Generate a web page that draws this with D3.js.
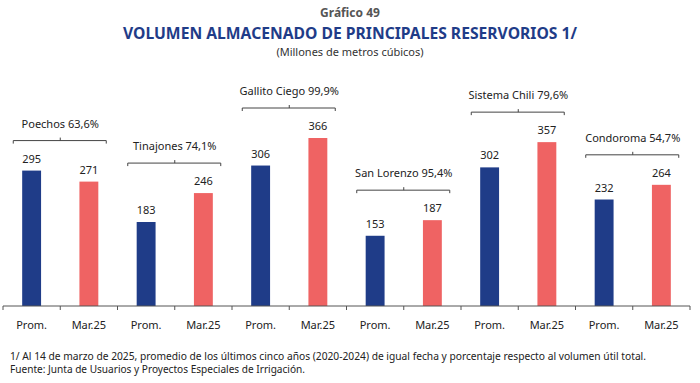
<!DOCTYPE html>
<meta charset="utf-8">
<title>Gráfico 49</title>
<style>

body {
  margin: 0;
  background: #fff;
  font-family: "Noto Sans", "Open Sans", sans-serif;
}

</style>
<body>
</body>
<script src="https://cdn.jsdelivr.net/npm/d3@7"></script>
<script>

// reservoirs, their % of useful volume, and the two values each
var reservoirs = ["Poechos", "Tinajones", "Gallito Ciego", "San Lorenzo", "Sistema Chili", "Condoroma"];
var percents = ["63,6%", "74,1%", "99,9%", "95,4%", "79,6%", "54,7%"];
var promValues = [295, 183, 306, 153, 302, 232];
var marValues = [271, 246, 366, 187, 357, 264];
var periods = ["Prom.", "Mar.25"];

var width = 700,
    height = 383;

var svg = d3.select("body").append("svg")
    .attr("width", width)
    .attr("height", height);

var colors = ["#1f3c88", "#ef6363"];

// flatten into one row per bar
var rows = [];
reservoirs.forEach(function(r, i) {
  rows.push({key: r + "-0", group: i, period: 0, value: promValues[i]});
  rows.push({key: r + "-1", group: i, period: 1, value: marValues[i]});
});

var x = d3.scaleBand()
    .domain(rows.map(function(d) { return d.key; }))
    .range([3, 690])
    .paddingInner(0.67)
    .paddingOuter(0.335);

var step = x.step();

var y = d3.scaleLinear()
    .domain([0, 366])
    .range([306, 138]);

// titles
svg.append("text")
    .attr("x", 350).attr("y", 17)
    .attr("text-anchor", "middle")
    .attr("font-size", 12).attr("font-weight", "bold")
    .attr("fill", "#555")
    .text("Gráfico 49");

svg.append("text")
    .attr("x", 350).attr("y", 39)
    .attr("text-anchor", "middle")
    .attr("font-size", 15.5).attr("font-weight", "bold")
    .attr("fill", "#1f3c88")
    .attr("textLength", 454).attr("lengthAdjust", "spacingAndGlyphs")
    .text("VOLUMEN ALMACENADO DE PRINCIPALES RESERVORIOS 1/");

svg.append("text")
    .attr("x", 350).attr("y", 56)
    .attr("text-anchor", "middle")
    .attr("font-size", 11)
    .attr("fill", "#333")
    .text("(Millones de metros cúbicos)");

// bars
svg.selectAll("rect.bar")
    .data(rows)
  .enter().append("rect")
    .attr("class", "bar")
    .attr("x", function(d) { return x(d.key); })
    .attr("y", function(d) { return y(d.value); })
    .attr("width", x.bandwidth())
    .attr("height", function(d) { return y(0) - y(d.value); })
    .attr("fill", function(d) { return colors[d.period]; });

// value labels
svg.selectAll("text.val")
    .data(rows)
  .enter().append("text")
    .attr("class", "val")
    .attr("x", function(d) { return x(d.key) + x.bandwidth() / 2; })
    .attr("y", function(d) { return y(d.value) - 8; })
    .attr("text-anchor", "middle")
    .attr("font-size", 11)
    .attr("fill", "#222")
    .text(function(d) { return d.value; });

// brackets over each pair
reservoirs.forEach(function(r, i) {
  var top = y(Math.max(promValues[i], marValues[i])) - 30;
  var c = (x(r + "-0") + x(r + "-1") + x.bandwidth()) / 2;
  var x0 = c - 47, x1 = c + 46;
  var g = svg.append("g");
  g.append("path")
      .attr("d", "M" + x0 + "," + (top + 3) + "L" + x0 + "," + top + "L" + x1 + "," + top + "L" + x1 + "," + (top + 3) +
                 "M" + c + "," + top + "L" + c + "," + (top - 3))
      .attr("fill", "none")
      .attr("stroke", "#444")
      .attr("stroke-width", 1);
  g.append("text")
      .attr("x", c).attr("y", top - 13)
      .attr("text-anchor", "middle")
      .attr("font-size", 11)
      .attr("fill", "#222")
      .text(r + " " + percents[i]);
});

// x axis with ticks at category boundaries
var axisG = svg.append("g");
axisG.append("line")
    .attr("x1", 3).attr("x2", 690)
    .attr("y1", y(0)).attr("y2", y(0))
    .attr("stroke", "#555");

var bounds = d3.range(rows.length + 1).map(function(i) { return 3 + i * step; });
axisG.selectAll("line.tick")
    .data(bounds)
  .enter().append("line")
    .attr("class", "tick")
    .attr("x1", function(d) { return d; }).attr("x2", function(d) { return d; })
    .attr("y1", y(0)).attr("y2", y(0) + 4)
    .attr("stroke", "#555");

axisG.selectAll("text.cat")
    .data(rows)
  .enter().append("text")
    .attr("class", "cat")
    .attr("x", function(d) { return x(d.key) + x.bandwidth() / 2; })
    .attr("y", 329)
    .attr("text-anchor", "middle")
    .attr("font-size", 11)
    .attr("fill", "#222")
    .text(function(d) { return periods[d.period]; });

// footnotes
svg.append("text")
    .attr("x", 10).attr("y", 360)
    .attr("font-size", 10)
    .attr("fill", "#222")
    .attr("textLength", 636).attr("lengthAdjust", "spacingAndGlyphs")
    .text("1/ Al 14 de marzo de 2025, promedio de los últimos cinco años (2020-2024) de igual fecha y porcentaje respecto al volumen útil total.");

svg.append("text")
    .attr("x", 10).attr("y", 373)
    .attr("font-size", 10)
    .attr("fill", "#222")
    .attr("textLength", 295).attr("lengthAdjust", "spacingAndGlyphs")
    .text("Fuente: Junta de Usuarios y Proyectos Especiales de Irrigación.");

</script>
